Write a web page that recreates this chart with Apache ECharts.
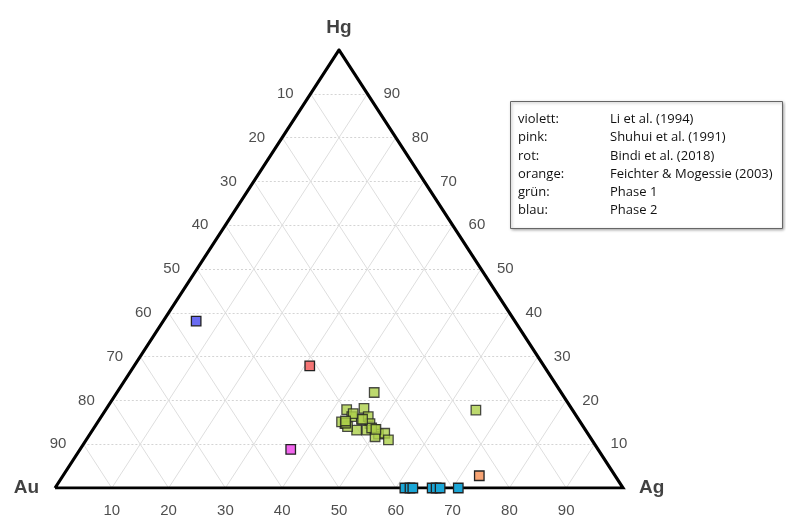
<!DOCTYPE html>
<html>
<head>
<meta charset="utf-8">
<script src="https://cdn.jsdelivr.net/npm/echarts@6/dist/echarts.min.js"></script>
<style>
  html, body { margin: 0; padding: 0; background: #fff; }
  #chart { width: 786px; height: 515px; }
</style>
</head>
<body>
<div id="chart"></div>
<script>
// Messwerte als [Au, Ag, Hg] in %
var violett = [[56.1, 5.8, 38.1]];
var pink = [[54.1, 37.1, 8.8]];
var rot = [[41.2, 30.9, 27.9]];
var orange = [[23.9, 73.3, 2.8]];
var gruen = [
    [32.9, 45.3, 21.8], [39.7, 42.4, 17.9], [36.5, 45.3, 18.2], [41.6, 43.7, 14.7],
    [42.0, 42.9, 15.1], [39.6, 44.1, 16.3], [40.3, 46.5, 13.2], [38.2, 46.1, 15.7],
    [36.7, 47.0, 16.3], [37.2, 48.1, 14.7], [37.0, 49.6, 13.4], [38.5, 48.3, 13.2],
    [36.9, 50.8, 12.3], [35.7, 51.8, 12.5], [35.8, 53.2, 11.0], [37.8, 50.5, 11.7],
    [41.5, 44.5, 14.0], [39.0, 44.0, 17.0], [37.4, 48.9, 13.7], [17.0, 65.2, 17.8],
    [41.4, 43.8, 14.8], [38.0, 46.3, 15.7], [36.8, 49.8, 13.4], [41.2, 43.5, 15.3]
];
var blau = [
    [38.4, 61.6, 0], [37.5, 62.5, 0], [37.0, 63.0, 0], [33.6, 66.4, 0],
    [32.9, 67.1, 0], [32.2, 67.8, 0], [29.0, 71.0, 0]
];
var ticks = [10, 20, 30, 40, 50, 60, 70, 80, 90];
var legendKeys = ['violett:', 'pink:', 'rot:', 'orange:', 'grün:', 'blau:'];
var legendRefs = ['Li et al. (1994)', 'Shuhui et al. (1991)', 'Bindi et al. (2018)',
    'Feichter & Mogessie (2003)', 'Phase 1', 'Phase 2'];

// ternär -> x/y (Ag nach rechts, Hg nach oben)
function toXY(p) {
    var s = p[0] + p[1] + p[2];
    var ag = p[1] / s * 100, hg = p[2] / s * 100;
    return [ag + hg / 2, hg];
}

var hLines = [], sLines = [];
ticks.forEach(function (k) {
    hLines.push({ coords: [toXY([100 - k, 0, k]), toXY([0, 100 - k, k])] });
    // Ag konstant
    sLines.push({ coords: [toXY([100 - k, k, 0]), toXY([0, k, 100 - k])] });
    // Au konstant
    sLines.push({ coords: [toXY([k, 100 - k, 0]), toXY([k, 0, 100 - k])] });
});

var tickFont = { color: '#222', fontSize: 15, fontFamily: 'Liberation Sans, Arial' };
function tickSeries(points, pos, dist) {
    return {
        type: 'scatter', symbolSize: 0, silent: true, z: 1,
        data: points,
        label: Object.assign({ show: true, position: pos, distance: dist,
            formatter: function (p) { return p.data.name; } }, tickFont)
    };
}

function pointSeries(name, arr, color, opacity) {
    return {
        name: name, type: 'scatter', symbol: 'rect', symbolSize: 9.5, z: 5,
        data: arr.map(toXY),
        itemStyle: { color: color, borderColor: '#222', borderWidth: 1.3, opacity: opacity || 1 }
    };
}

var cornerFont = { color: '#111', fontSize: 19, fontWeight: 'bold', fontFamily: 'Liberation Sans, Arial' };

var legendGraphic = [{
    type: 'rect', left: 510, top: 101,
    shape: { width: 272, height: 127 },
    style: { fill: '#fff', stroke: '#666', lineWidth: 1, shadowBlur: 3, shadowColor: 'rgba(0,0,0,0.35)', shadowOffsetX: 1, shadowOffsetY: 1 }
}];
legendKeys.forEach(function (t, i) {
    legendGraphic.push({ type: 'text', left: 518, top: 113 + i * 18.2,
        style: { text: t, fontSize: 13, fontFamily: 'Open Sans', fill: '#111' } });
    legendGraphic.push({ type: 'text', left: 610, top: 113 + i * 18.2,
        style: { text: legendRefs[i], fontSize: 13, fontFamily: 'Open Sans', fill: '#111' } });
});

var option = {
    animation: false,
    grid: { left: 55, right: 163, top: 50, bottom: 27 },
    xAxis: { type: 'value', min: 0, max: 100, show: false },
    yAxis: { type: 'value', min: 0, max: 100, show: false },
    graphic: legendGraphic,
    series: [
        {
            type: 'lines', coordinateSystem: 'cartesian2d', silent: true, z: 1,
            data: hLines,
            lineStyle: { color: '#d4d4d4', width: 1, type: [2, 2], opacity: 1 }
        },
        {
            type: 'lines', coordinateSystem: 'cartesian2d', silent: true, z: 1,
            data: sLines,
            lineStyle: { color: '#dedede', width: 1, opacity: 1 }
        },
        {
            type: 'lines', coordinateSystem: 'cartesian2d', silent: true, z: 3,
            data: [{ coords: [toXY([100, 0, 0]), toXY([0, 100, 0]), toXY([0, 0, 100]), toXY([100, 0, 0])] }],
            polyline: true,
            lineStyle: { color: '#000', width: 3.2, opacity: 1, join: 'miter' }
        },
        // Achsenbeschriftung
        tickSeries(ticks.map(function (k) { return { name: String(k), value: toXY([k, 0, 100 - k]) }; }), 'left', 17),
        tickSeries(ticks.map(function (k) { return { name: String(k), value: toXY([0, 100 - k, k]) }; }), 'right', 16),
        tickSeries(ticks.map(function (k) { return { name: String(k), value: toXY([100 - k, k, 0]) }; }), 'bottom', 15),
        {
            type: 'scatter', symbolSize: 0, silent: true,
            data: [
                { name: 'Hg', value: toXY([0, 0, 100]), label: { position: 'top', distance: 13 } },
                { name: 'Au', value: toXY([100, 0, 0]), label: { position: 'left', distance: 16 } },
                { name: 'Ag', value: toXY([0, 100, 0]), label: { position: 'right', distance: 16 } }
            ],
            label: Object.assign({ show: true, formatter: function (p) { return p.data.name; } }, cornerFont)
        },
        pointSeries('violett', violett, '#6a6cf2'),
        pointSeries('pink', pink, '#f266ee'),
        pointSeries('rot', rot, '#f47474'),
        pointSeries('orange', orange, '#f7a474'),
        pointSeries('grün', gruen, '#add04a', 0.8),
        pointSeries('blau', blau, '#1ba6d6')
    ]
};

var myChart = echarts.init(document.getElementById('chart'));
myChart.setOption(option);
</script>
</body>
</html>
